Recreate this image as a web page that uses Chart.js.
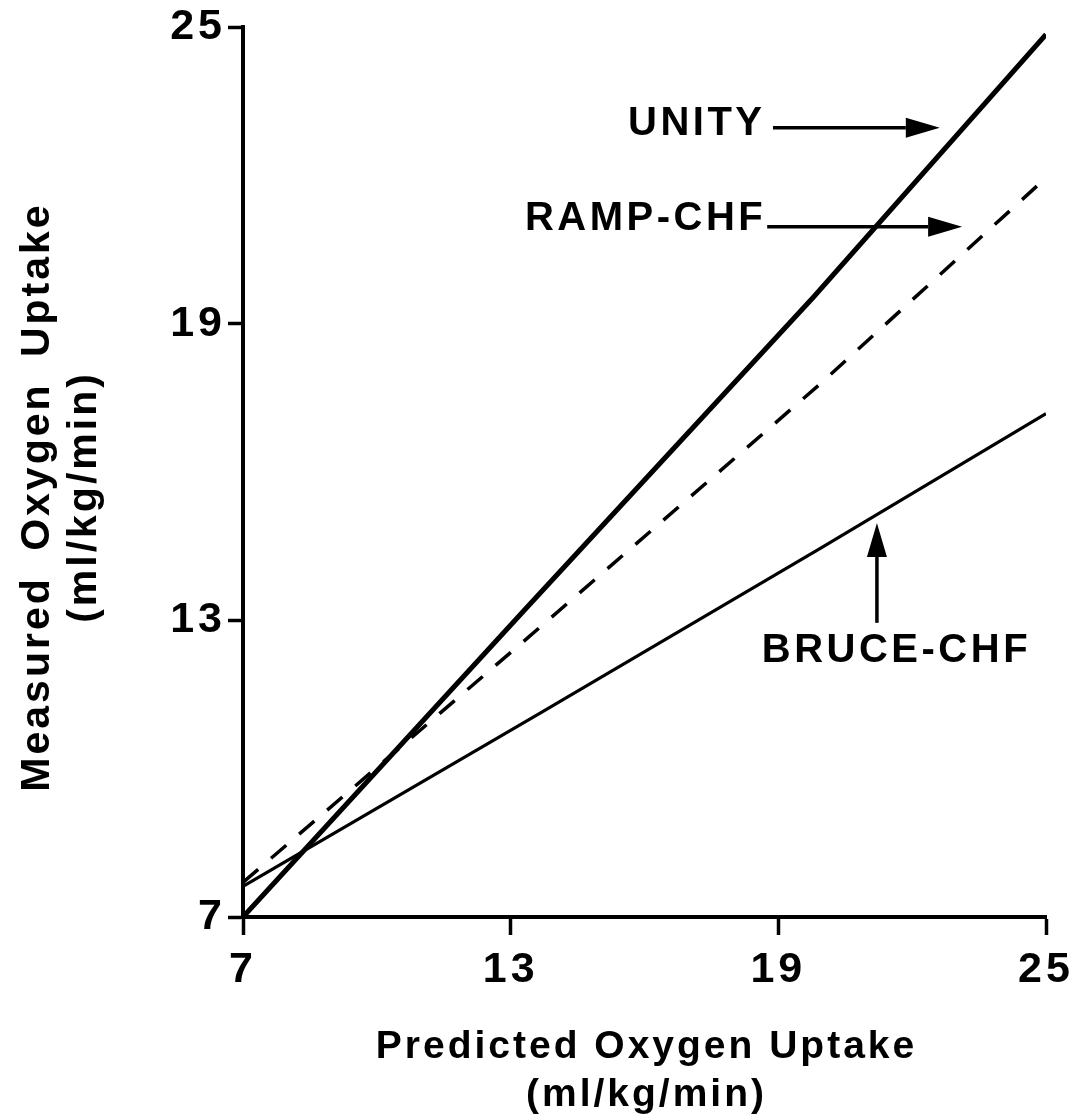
<!DOCTYPE html>
<html>
<head>
<meta charset="utf-8">
<title>Measured vs Predicted Oxygen Uptake</title>
<script src="https://cdn.jsdelivr.net/npm/chart.js@4/dist/chart.umd.min.js"></script>
<style>
  html, body { margin: 0; padding: 0; background: #ffffff; }
  canvas { display: block; }
</style>
</head>
<body>
<canvas id="chart" width="1076" height="1115"></canvas>
<script>
// Axis tick values (both axes share the same range)
const tickValues = [7, 13, 19, 25];

// Line of identity
const unityX = [7, 13.3, 19.8, 25];
const unityY = [7, 13.2, 19.55, 24.85];

// Ramp protocol, CHF patients
const rampX = [7, 13.4, 19.9, 25];
const rampY = [7.7, 12.66, 17.75, 21.95];

// Bruce protocol, CHF patients
const bruceX = [7, 13.67, 19.95, 25];
const bruceY = [7.62, 11.13, 14.46, 17.18];

// Callout labels and arrows, placed in data units
const calloutText  = ['UNITY', 'RAMP-CHF', 'BRUCE-CHF'];
const calloutX     = [15.63, 13.32, 18.63];
const calloutY     = [23.04, 21.12, 12.38];
const arrowFromX   = [18.88, 18.75, 21.21];
const arrowFromY   = [22.96, 20.96, 12.95];
const arrowToX     = [22.62, 23.12, 21.21];
const arrowToY     = [22.96, 20.96, 14.97];

const xTitle = ['Predicted Oxygen Uptake', '(ml/kg/min)'];
const yTitle = ['Measured Oxygen Uptake', '(ml/kg/min)'];

const FONT = '"Liberation Sans", Arial, Helvetica, sans-serif';

function points(xs, ys) {
  return xs.map((x, i) => ({ x: x, y: ys[i] }));
}

function drawArrow(ctx, x1, y1, x2, y2) {
  const headLen = 34, headHalf = 10;
  const ang = Math.atan2(y2 - y1, x2 - x1);
  const bx = x2 - headLen * Math.cos(ang);
  const by = y2 - headLen * Math.sin(ang);
  ctx.beginPath();
  ctx.lineWidth = 3.5;
  ctx.lineCap = 'butt';
  ctx.moveTo(x1, y1);
  ctx.lineTo(bx, by);
  ctx.stroke();
  ctx.beginPath();
  ctx.moveTo(x2, y2);
  ctx.lineTo(bx + headHalf * Math.sin(ang), by - headHalf * Math.cos(ang));
  ctx.lineTo(bx - headHalf * Math.sin(ang), by + headHalf * Math.cos(ang));
  ctx.closePath();
  ctx.fill();
}

const calloutPlugin = {
  id: 'callouts',
  beforeDraw(chart) {
    chart.ctx.letterSpacing = '4px';
  },
  afterDraw(chart) {
    const { ctx, chartArea, scales: { x, y } } = chart;
    ctx.save();
    ctx.fillStyle = '#000';
    ctx.strokeStyle = '#000';

    // callouts with arrows
    ctx.font = 'bold 40px ' + FONT;
    ctx.letterSpacing = '3.5px';
    ctx.textAlign = 'left';
    ctx.textBaseline = 'middle';
    calloutText.forEach((t, i) => {
      ctx.fillText(t, x.getPixelForValue(calloutX[i]), y.getPixelForValue(calloutY[i]));
      drawArrow(ctx,
        x.getPixelForValue(arrowFromX[i]), y.getPixelForValue(arrowFromY[i]),
        x.getPixelForValue(arrowToX[i]), y.getPixelForValue(arrowToY[i]));
    });

    // x axis title (two lines)
    ctx.font = 'bold 39px ' + FONT;
    ctx.letterSpacing = '3px';
    ctx.textAlign = 'center';
    const cx = (chartArea.left + chartArea.right) / 2 + 2;
    ctx.fillText(xTitle[0], cx, chart.height - 68);
    ctx.fillText(xTitle[1], cx, chart.height - 20);

    // y axis title (two lines, rotated)
    ctx.font = 'bold 41px ' + FONT;
    ctx.letterSpacing = '3px';
    ctx.wordSpacing = '11px';
    const cy = (chartArea.top + chartArea.bottom) / 2 + 25;
    ctx.save();
    ctx.translate(38, cy);
    ctx.rotate(-Math.PI / 2);
    ctx.fillText(yTitle[0], 0, 0);
    ctx.restore();
    ctx.wordSpacing = '0px';
    ctx.save();
    ctx.translate(85, cy);
    ctx.rotate(-Math.PI / 2);
    ctx.fillText(yTitle[1], 0, 0);
    ctx.restore();

    ctx.restore();
  }
};

const tickFont = { family: FONT, weight: 'bold', size: 43, lineHeight: 1.2 };

new Chart(document.getElementById('chart'), {
  type: 'line',
  data: {
    datasets: [
      {
        label: 'UNITY',
        data: points(unityX, unityY),
        borderColor: '#000',
        borderWidth: 5,
        pointRadius: 0,
        tension: 0,
        fill: false
      },
      {
        label: 'RAMP-CHF',
        data: points(rampX, rampY),
        borderColor: '#000',
        borderWidth: 3.5,
        borderDash: [20, 17],
        pointRadius: 0,
        tension: 0,
        fill: false
      },
      {
        label: 'BRUCE-CHF',
        data: points(bruceX, bruceY),
        borderColor: '#000',
        borderWidth: 3.2,
        pointRadius: 0,
        tension: 0,
        fill: false
      }
    ]
  },
  options: {
    responsive: false,
    animation: false,
    devicePixelRatio: 1,
    layout: { padding: { top: 27, right: 30, left: 0, bottom: 0 } },
    plugins: {
      legend: { display: false },
      tooltip: { enabled: false }
    },
    scales: {
      x: {
        type: 'linear',
        min: 7,
        max: 25,
        afterBuildTicks: s => { s.ticks = tickValues.map(v => ({ value: v })); },
        grid: { drawOnChartArea: false, drawTicks: true, tickLength: 18, tickWidth: 3.5, tickColor: '#000' },
        border: { display: true, color: '#000', width: 4 },
        ticks: { color: '#000', font: tickFont, padding: 9, maxRotation: 0, autoSkip: false },
        afterFit: s => { s.height = 198; s.paddingLeft = 0; s.paddingRight = 0; }
      },
      y: {
        type: 'linear',
        min: 7,
        max: 25,
        afterBuildTicks: s => { s.ticks = tickValues.map(v => ({ value: v })); },
        grid: { drawOnChartArea: false, drawTicks: true, tickLength: 15, tickWidth: 3.5, tickColor: '#000' },
        border: { display: true, color: '#000', width: 4 },
        ticks: { color: '#000', font: tickFont, padding: 2, autoSkip: false },
        afterFit: s => { s.width = 243; s.paddingTop = 0; s.paddingBottom = 0; }
      }
    }
  },
  plugins: [calloutPlugin]
});
</script>
</body>
</html>
